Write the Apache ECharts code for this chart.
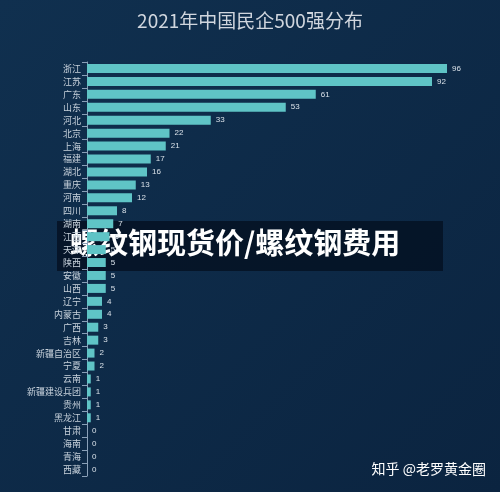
<!DOCTYPE html><html><head><meta charset="utf-8"><style>html,body{margin:0;padding:0;background:#0e2a47}#c{width:500px;height:492px}</style>
<script src="https://cdn.jsdelivr.net/npm/echarts@6/dist/echarts.min.js"></script></head><body><div id="c"></div><script>
const provinces=['浙江','江苏','广东','山东','河北','北京','上海','福建','湖北','重庆','河南','四川','湖南','江西','天津','陕西','安徽','山西','辽宁','内蒙古','广西','吉林','新疆自治区','宁夏','云南','新疆建设兵团','贵州','黑龙江','甘肃','海南','青海','西藏'];
const counts=[96,92,61,53,33,22,21,17,16,13,12,8,7,6,5,5,5,5,4,4,3,3,2,2,1,1,1,1,0,0,0,0];
const title='2021年中国民企500强分布';
const banner='螺纹钢现货价/螺纹钢费用';
const credit='知乎 @老罗黄金圈';
const ch=echarts.init(document.getElementById('c'));
ch.setOption({
 backgroundColor:{type:'linear',x:0,y:0,x2:1,y2:1,colorStops:[{offset:0,color:'#10304f'},{offset:1,color:'#0b2440'}]},
 title:{text:title,left:'center',top:6,textStyle:{color:'#d0d6de',fontSize:19,fontWeight:'normal',fontFamily:'Noto Sans CJK SC'}},
 grid:{left:87,right:38,top:62,bottom:16},
 xAxis:{type:'value',min:0,max:100,show:false},
 yAxis:{type:'category',inverse:true,data:provinces,axisLine:{lineStyle:{color:'#8aa0b8'}},axisTick:{show:true,lineStyle:{color:'#8aa0b8'}},
  axisLabel:{color:'#c8d2dc',fontSize:9,margin:6,fontFamily:'Noto Sans CJK SC'}},
 series:[{type:'bar',data:counts,barWidth:9,itemStyle:{color:'#5fc4c6'},label:{show:true,position:'right',color:'#d8e0e8',fontSize:8,distance:5}}],
 graphic:[
  {type:'rect',shape:{x:57,y:221,width:386,height:50},style:{fill:'rgba(5,18,35,0.85)'}},
  {type:'text',left:70,top:228,style:{text:banner,fill:'#ffffff',font:'bold 29px "Noto Sans CJK SC"'}},
  {type:'text',right:14,top:462,style:{text:credit,fill:'#ffffff',font:'14px "Noto Sans CJK SC"'}}
 ]
});
</script></body></html>
